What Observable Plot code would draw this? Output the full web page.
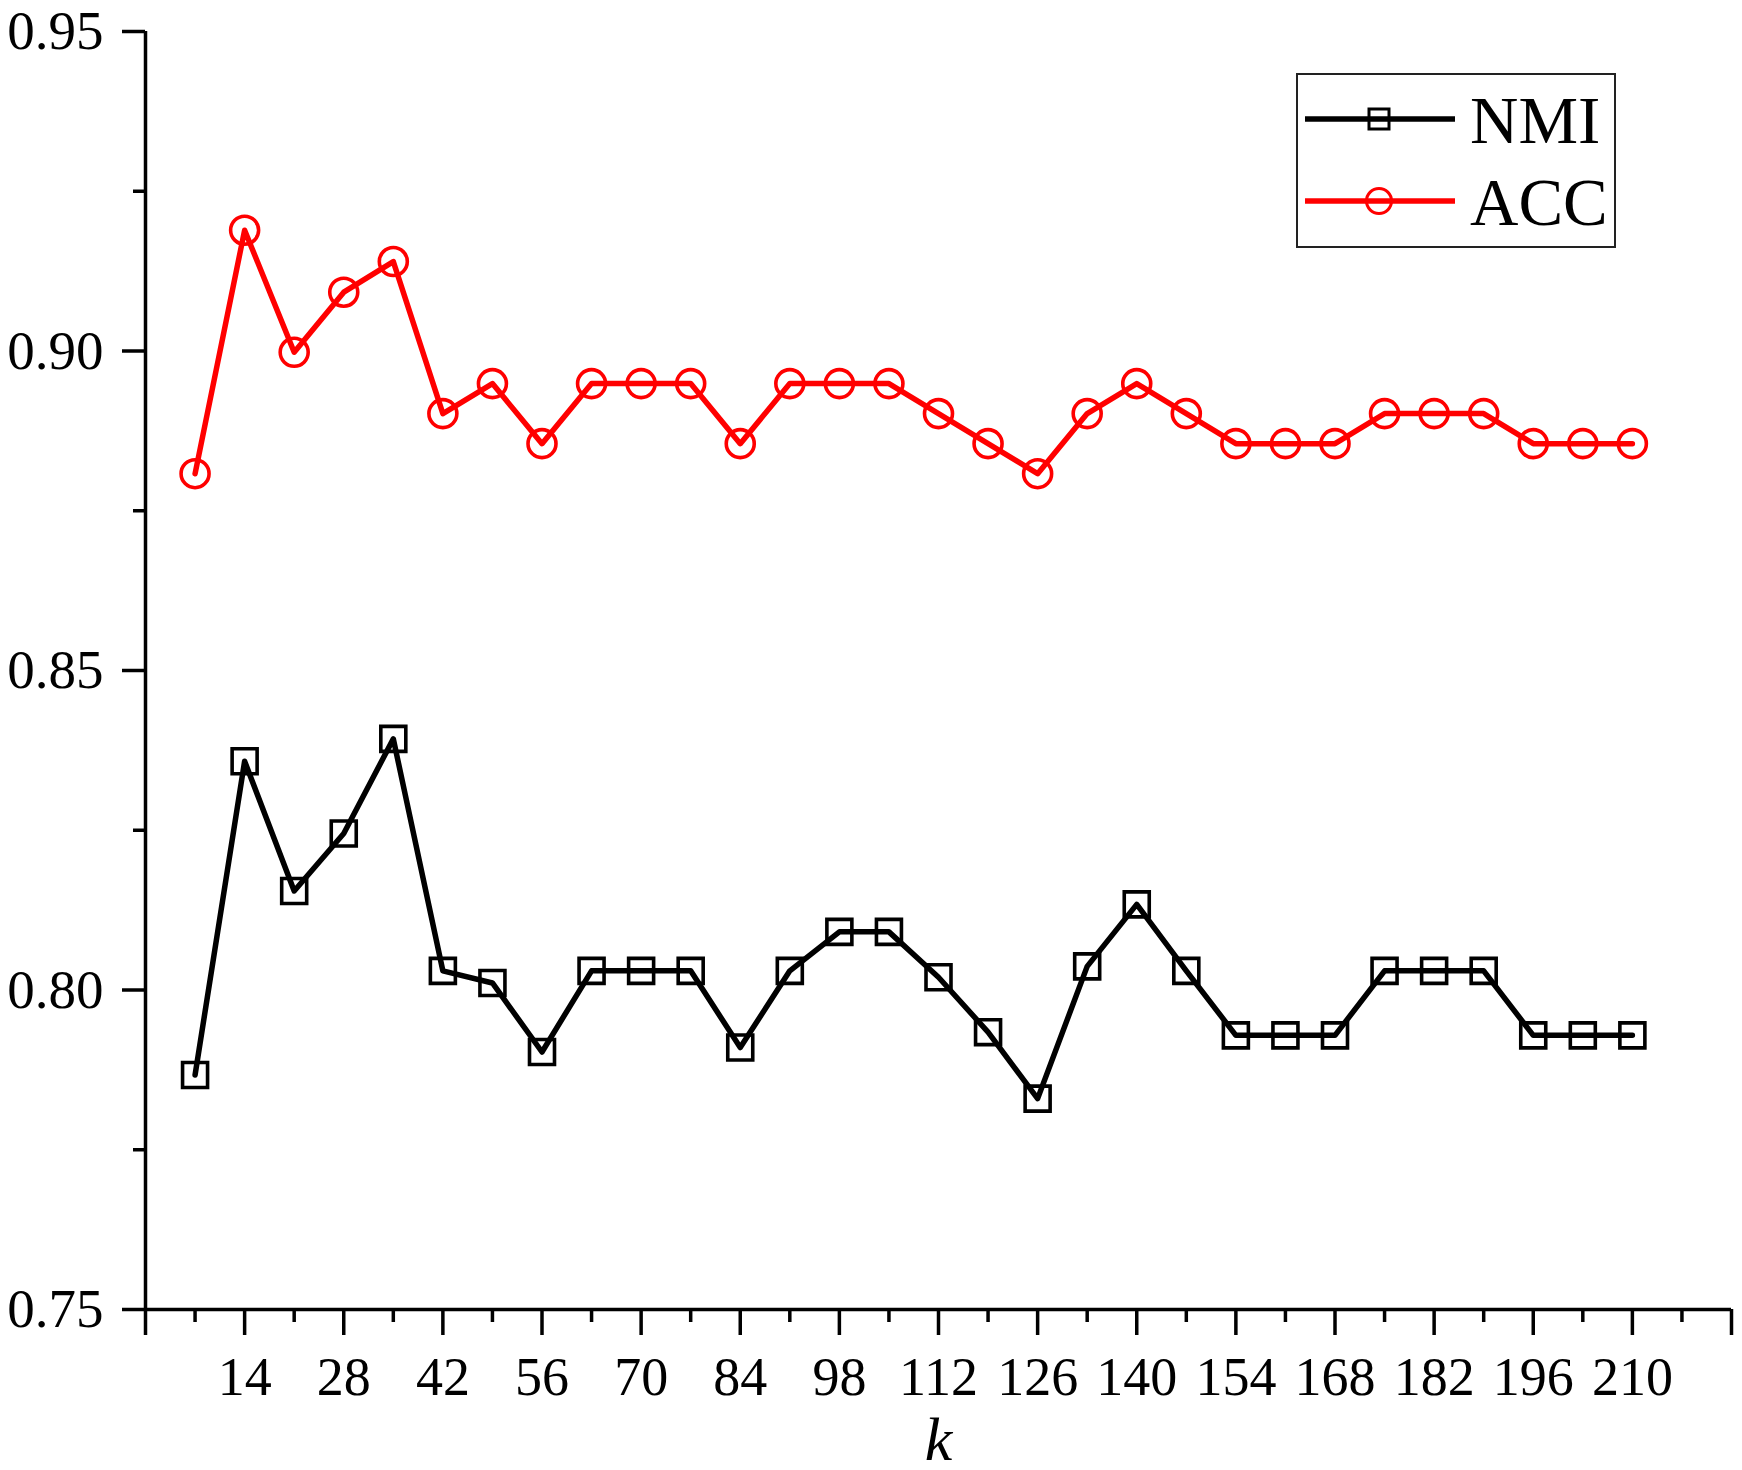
<!DOCTYPE html>
<html>
<head>
<meta charset="utf-8">
<script src="https://cdn.jsdelivr.net/npm/d3@7"></script>
<script src="https://cdn.jsdelivr.net/npm/@observablehq/plot@0.6"></script>
<style>
  html, body { margin: 0; padding: 0; background: #fff; }
  #wrap { position: relative; width: 1742px; height: 1470px; font-family: "Liberation Serif", "Times New Roman", serif; }
  #legend { position: absolute; left: 0; top: 0; }
</style>
</head>
<body>
<div id="wrap"></div>
<script>
// ---- data ----
const kValues = [7, 14, 21, 28, 35, 42, 49, 56, 63, 70, 77, 84, 91, 98, 105, 112, 119, 126, 133, 140, 147, 154, 161, 168, 175, 182, 189, 196, 203, 210];
const nmiValues = [0.7867, 0.8358, 0.8155, 0.8245, 0.8393, 0.8030, 0.8011, 0.7903, 0.8030, 0.8030, 0.8030, 0.7910, 0.8030, 0.8091, 0.8091, 0.8020, 0.7934, 0.7830, 0.8037, 0.8134, 0.8030, 0.7929, 0.7929, 0.7929, 0.8030, 0.8030, 0.8030, 0.7929, 0.7929, 0.7929];
const accValues = [0.8808, 0.9189, 0.8998, 0.9092, 0.9140, 0.8902, 0.8949, 0.8855, 0.8949, 0.8949, 0.8949, 0.8855, 0.8949, 0.8949, 0.8949, 0.8902, 0.8855, 0.8808, 0.8902, 0.8949, 0.8902, 0.8855, 0.8855, 0.8855, 0.8902, 0.8902, 0.8902, 0.8855, 0.8855, 0.8855];
const seriesNames = ["NMI", "ACC"];
const seriesColors = ["#000000", "#ff0000"];
const seriesSymbols = ["square", "circle"];
const xMajorTicks = [0, 14, 28, 42, 56, 70, 84, 98, 112, 126, 140, 154, 168, 182, 196, 210, 224];
const xLabelTicks = [14, 28, 42, 56, 70, 84, 98, 112, 126, 140, 154, 168, 182, 196, 210];
const xMinorTicks = [7, 21, 35, 49, 63, 77, 91, 105, 119, 133, 147, 161, 175, 189, 203, 217];
const yMajorTicks = [0.75, 0.80, 0.85, 0.90, 0.95];
const yMinorTicks = [0.775, 0.825, 0.875, 0.925];
const xDomain = [0, 224];
const yDomain = [0.75, 0.95];
const xLabel = "k";

const nmi = kValues.map((k, i) => ({k, v: nmiValues[i]}));
const acc = kValues.map((k, i) => ({k, v: accValues[i]}));

const FONT = "'Liberation Serif', 'Times New Roman', serif";

const chart = Plot.plot({
  width: 1742,
  height: 1470,
  marginLeft: 145,
  marginRight: 11,
  marginTop: 31,
  marginBottom: 161,
  style: {fontFamily: FONT, color: "#000", background: "#fff", overflow: "visible"},
  x: {domain: xDomain},
  y: {domain: yDomain},
  marks: [
    Plot.axisY({ticks: yMajorTicks, tickSize: 23, tickPadding: 19, fontSize: 55, tickFormat: d3.format(".2f"), strokeWidth: 3.5, label: null}),
    Plot.axisY({ticks: yMinorTicks, tickSize: 12, text: null, strokeWidth: 3.5, label: null}),
    Plot.axisX({ticks: xMajorTicks, tickSize: 26, text: null, strokeWidth: 3.5, label: null}),
    Plot.axisX({ticks: xLabelTicks, tickSize: 0, tickPadding: 47, fontSize: 54, label: null}),
    Plot.axisX({ticks: xMinorTicks, tickSize: 13, text: null, strokeWidth: 3.5, label: null}),
    Plot.ruleX([xDomain[0]], {y1: yDomain[0], y2: yDomain[1], stroke: "#000", strokeWidth: 3.5}),
    Plot.ruleY([yDomain[0]], {x1: xDomain[0], x2: xDomain[1], stroke: "#000", strokeWidth: 3.5}),
    Plot.text([xLabel], {frameAnchor: "bottom", dy: 131, fontSize: 62, fontStyle: "italic", fill: "#000", lineAnchor: "middle"}),
    Plot.line(nmi, {x: "k", y: "v", stroke: seriesColors[0], strokeWidth: 5.5}),
    Plot.dot(nmi, {x: "k", y: "v", symbol: seriesSymbols[0], r: 14.1, stroke: seriesColors[0], strokeWidth: 3.6, fill: "none"}),
    Plot.line(acc, {x: "k", y: "v", stroke: seriesColors[1], strokeWidth: 5.5}),
    Plot.dot(acc, {x: "k", y: "v", symbol: seriesSymbols[1], r: 14, stroke: seriesColors[1], strokeWidth: 3.6, fill: "none"})
  ]
});

const wrap = document.getElementById("wrap");
wrap.appendChild(chart);

// ---- legend (inside plot area, top right) ----
const ns = "http://www.w3.org/2000/svg";
const leg = document.createElementNS(ns, "svg");
leg.setAttribute("id", "legend");
leg.setAttribute("width", 1742);
leg.setAttribute("height", 300);
leg.style.fontFamily = "'Liberation Serif', 'Times New Roman', serif";
const box = document.createElementNS(ns, "rect");
box.setAttribute("x", 1297); box.setAttribute("y", 74);
box.setAttribute("width", 318); box.setAttribute("height", 173);
box.setAttribute("fill", "#fff"); box.setAttribute("stroke", "#222"); box.setAttribute("stroke-width", 2);
leg.appendChild(box);
const rowY = [119, 201];
seriesNames.forEach((name, i) => {
  const y = rowY[i];
  const ln = document.createElementNS(ns, "line");
  ln.setAttribute("x1", 1305); ln.setAttribute("x2", 1455);
  ln.setAttribute("y1", y); ln.setAttribute("y2", y);
  ln.setAttribute("stroke", seriesColors[i]); ln.setAttribute("stroke-width", 5.5);
  leg.appendChild(ln);
  let m;
  if (seriesSymbols[i] === "square") {
    m = document.createElementNS(ns, "rect");
    m.setAttribute("x", 1379 - 10); m.setAttribute("y", y - 10);
    m.setAttribute("width", 20); m.setAttribute("height", 20);
  } else {
    m = document.createElementNS(ns, "circle");
    m.setAttribute("cx", 1379); m.setAttribute("cy", y); m.setAttribute("r", 12.5);
  }
  m.setAttribute("fill", "none"); m.setAttribute("stroke", seriesColors[i]); m.setAttribute("stroke-width", 3);
  leg.appendChild(m);
  const t = document.createElementNS(ns, "text");
  t.setAttribute("x", 1470); t.setAttribute("y", y + 24);
  t.setAttribute("font-size", 67); t.setAttribute("fill", "#000");
  t.textContent = name;
  leg.appendChild(t);
});
wrap.appendChild(leg);
</script>
</body>
</html>
